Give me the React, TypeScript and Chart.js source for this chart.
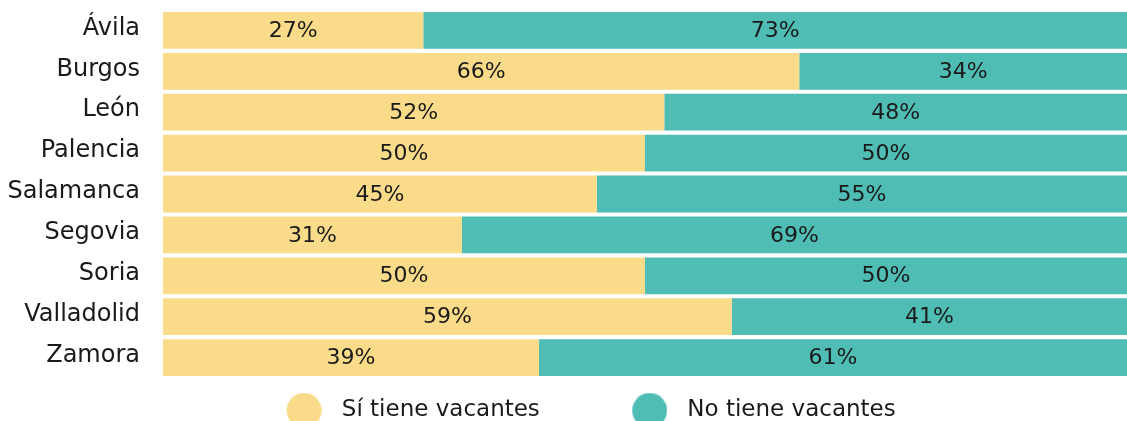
import React, { useEffect, useRef } from "react";
import { Chart, registerables } from "chart.js";

Chart.register(...registerables);

const categories = ["Ávila", "Burgos", "León", "Palencia", "Salamanca", "Segovia", "Soria", "Valladolid", "Zamora"];
const siTiene = [27, 66, 52, 50, 45, 31, 50, 59, 39];
const noTiene = [73, 34, 48, 50, 55, 69, 50, 41, 61];
const seriesNames = ["Sí tiene vacantes", "No tiene vacantes"];
const colors = ["#FADB8A", "#4FBDB4"];

const FONT = "'DejaVu Sans', sans-serif";
const TEXT = "#1a1a1a";
const SHIFT = 16;

function makeDot(color: string): HTMLCanvasElement {
  const c = document.createElement("canvas");
  c.width = 98;
  c.height = 36;
  const ctx = c.getContext("2d")!;
  ctx.fillStyle = color;
  ctx.beginPath();
  ctx.arc(80.3, 18, 17.5, 0, Math.PI * 2);
  ctx.fill();
  return c;
}

const valueLabels = {
  id: "valueLabels",
  afterDatasetsDraw(chart: any) {
    const ctx = chart.ctx;
    ctx.save();
    ctx.font = `22px ${FONT}`;
    ctx.fillStyle = TEXT;
    ctx.textAlign = "center";
    ctx.textBaseline = "middle";
    chart.data.datasets.forEach((ds: any, di: number) => {
      const meta = chart.getDatasetMeta(di);
      meta.data.forEach((el: any, i: number) => {
        const p = el.getProps(["x", "y", "base"], true);
        ctx.fillText(ds.data[i] + "%", (p.x + p.base) / 2, p.y + 1);
      });
    });
    ctx.restore();
  },
};

export default function App() {
  const ref = useRef<HTMLCanvasElement | null>(null);
  useEffect(() => {
    if (!ref.current) return;
    const dots = colors.map(makeDot);
    const chart = new Chart(ref.current, {
      type: "bar",
      data: {
        labels: categories,
        datasets: [
          { label: seriesNames[0], data: siTiene, backgroundColor: colors[0], barPercentage: 1, categoryPercentage: 0.9 },
          { label: seriesNames[1], data: noTiene, backgroundColor: colors[1], barPercentage: 1, categoryPercentage: 0.9 },
        ],
      },
      options: {
        indexAxis: "y",
        responsive: false,
        animation: false,
        layout: { padding: { top: 10, left: 0, right: 0, bottom: 0 } },
        scales: {
          x: { stacked: true, min: 0, max: 100, display: false },
          y: {
            stacked: true,
            grid: { display: false, drawTicks: false },
            border: { display: false },
            ticks: { padding: 23, color: TEXT, font: { family: FONT, size: 24 }, labelOffset: -2 },
            afterFit: (s: any) => {
              s.width = 163 + SHIFT;
              s.paddingTop = 0;
              s.paddingBottom = 0;
            },
          },
        },
        plugins: {
          tooltip: { enabled: false },
          legend: {
            position: "bottom",
            labels: {
              usePointStyle: true,
              pointStyleWidth: 115,
              padding: 21,
              color: TEXT,
              font: { family: FONT, size: 23 },
              generateLabels: (c: any) => {
                const items = Chart.defaults.plugins.legend.labels.generateLabels(c);
                return items.map((it: any, i: number) => ({ ...it, pointStyle: dots[i] }));
              },
            },
          },
        },
      },
      plugins: [valueLabels],
    } as any);
    return () => chart.destroy();
  }, []);
  return (
    <div style={{ position: "absolute", left: -SHIFT, top: 0, width: 1127 + SHIFT, height: 432 }}>
      <canvas ref={ref} width={1127 + SHIFT} height={432} />
    </div>
  );
}
